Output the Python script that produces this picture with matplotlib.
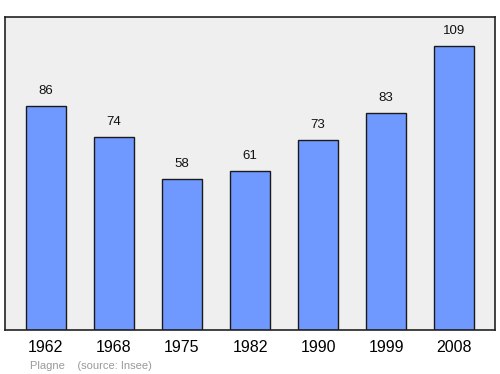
import matplotlib
matplotlib.use("Agg")
import matplotlib.pyplot as plt

plt.rcParams["font.family"] = ["Liberation Sans", "DejaVu Sans"]

years = ["1962", "1968", "1975", "1982", "1990", "1999", "2008"]
population = [86, 74, 58, 61, 73, 83, 109]

fig = plt.figure(figsize=(5, 3.74), dpi=100)
ax = fig.add_axes([0.01, 0.1176, 0.98, 0.837])
ax.set_facecolor("#efefef")
x = list(range(len(years)))
ax.bar(x, population, width=0.585, color="#7099ff", edgecolor="#1a1a1a", linewidth=1.0, zorder=2)
for xi, v in zip(x, population):
    ax.annotate(str(v), (xi, v), xytext=(0, 6.5), textcoords="offset points",
                ha="center", va="bottom", fontsize=9.5, color="#111111")
ax.set_xlim(-0.6, 6.6)
ax.set_ylim(0, 120)
ax.set_yticks([])
ax.set_xticks(x)
ax.set_xticklabels(years, fontsize=11.5)
ax.tick_params(axis="x", length=0, pad=7.5)
for s in ax.spines.values():
    s.set_color("#222222")
    s.set_linewidth(1.2)
fig.text(0.06, 0.008, "Plagne    (source: Insee)", fontsize=8, color="#999999", ha="left", va="bottom")
fig.savefig("out.png", dpi=100)
